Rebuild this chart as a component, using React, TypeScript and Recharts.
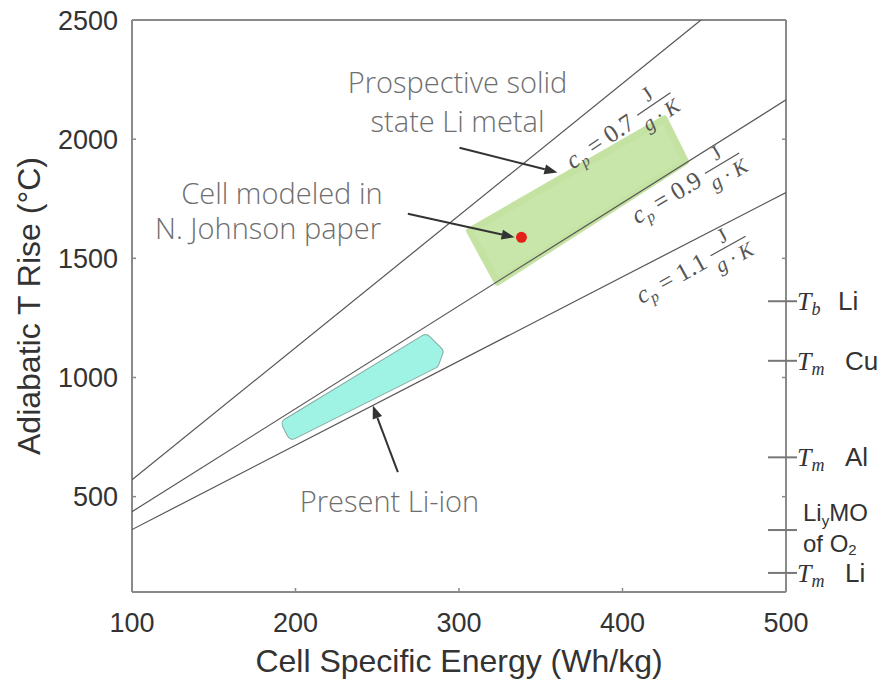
import React from 'react';
import { ScatterChart, Scatter, XAxis, YAxis } from 'recharts';

// ---- data ----
const xTicks = [100, 200, 300, 400, 500];
const yTicks = [500, 1000, 1500, 2000, 2500];

const cp07Line = [{ x: 100, y: 571 }, { x: 448, y: 2500 }];
const cp09Line = [{ x: 100, y: 437 }, { x: 500, y: 2165 }];
const cp11Line = [{ x: 100, y: 362 }, { x: 500, y: 1776 }];

const solidStateRegion = [
  { x: 306.5, y: 1615 },
  { x: 425.5, y: 2085 },
  { x: 438.5, y: 1906 },
  { x: 323.5, y: 1400 },
];
const liIonRegion = [
  { x: 195.1, y: 805 },
  { x: 279.5, y: 1157 },
  { x: 286.9, y: 1107 },
  { x: 284.4, y: 1061 },
  { x: 198.2, y: 764 },
];

const johnsonCell = [{ x: 338.2, y: 1588 }];

const arrowSolid = [{ x: 300.3, y: 1964 }, { x: 360.2, y: 1860 }];
const arrowCell = [{ x: 268.7, y: 1687 }, { x: 334, y: 1588 }];
const arrowLiIon = [{ x: 262.6, y: 603 }, { x: 247.3, y: 882 }];

const annotations = [
  { x: 299.1, y: 2195, text: 'Prospective solid' },
  { x: 299.1, y: 2031, text: 'state Li metal' },
  { x: 191.7, y: 1730, text: 'Cell modeled in' },
  { x: 183.2, y: 1580, text: 'N. Johnson paper' },
  { x: 257.5, y: 437, text: 'Present Li-ion' },
];

const cpLabels = [
  { x: 369.5, y: 1872, cp: '0.7' },
  { x: 409.2, y: 1642, cp: '0.9' },
  { x: 411.6, y: 1307, cp: '1.1' },
];

const refTemps = [1320, 1070, 665, 360, 180];
const refLabels = [
  { sym: 'T', sub: 'b', name: 'Li' },
  { sym: 'T', sub: 'm', name: 'Cu' },
  { sym: 'T', sub: 'm', name: 'Al' },
  { sym: '', sub: '', name: 'LiyMO' },
  { sym: 'T', sub: 'm', name: 'Li' },
];

// ---- styles ----
const cpAngles = [-34, -31, -29];
const AXIS = '#8a8a8a';
const LINE = '#555';
const SANS = 'Liberation Sans, Arial, sans-serif';
const SERIF = 'Liberation Serif, DejaVu Serif, serif';

const polyPath = (pts: any[]) =>
  pts.map((p, i) => `${i ? 'L' : 'M'}${p.x},${p.y}`).join(' ') + ' Z';

const straightLine = (p: any) => (
  <path d={polyPath(p.points).replace(' Z', '')} stroke={LINE} strokeWidth={1.2} fill="none" />
);

const greenShape = (p: any) => (
  <path
    d={polyPath(p.points)}
    fill="#c9e6aa"
    stroke="#c4e2a2"
    strokeWidth={7}
    strokeLinejoin="round"
  />
);

const cyanShape = (p: any) => (
  <g>
    <path d={polyPath(p.points)} fill="#86aaa3" stroke="#86aaa3" strokeWidth={12} strokeLinejoin="round" />
    <path d={polyPath(p.points)} fill="#9ff3e4" stroke="#9ff3e4" strokeWidth={10} strokeLinejoin="round" />
  </g>
);

const arrowLine = (p: any) => {
  const [a, b] = p.points;
  const dx = b.x - a.x;
  const dy = b.y - a.y;
  const len = Math.hypot(dx, dy) || 1;
  const ux = dx / len;
  const uy = dy / len;
  const hl = 13;
  const hw = 5;
  const bx = b.x - ux * hl;
  const by = b.y - uy * hl;
  return (
    <g>
      <path d={`M${a.x},${a.y} L${bx},${by}`} stroke="#333" strokeWidth={2} fill="none" />
      <path
        d={`M${b.x},${b.y} L${bx - uy * hw},${by + ux * hw} L${bx + uy * hw},${by - ux * hw} Z`}
        fill="#333"
      />
    </g>
  );
};

const noMarker = () => <g />;

const annotationShape = (p: any) => (
  <text
    x={p.cx}
    y={p.cy}
    textAnchor="middle"
    fontFamily="Open Sans, sans-serif"
    fontWeight={300}
    fontSize={29}
    fill="#6e6e6e"
  >
    {p.payload.text}
  </text>
);

const cpShape = (p: any) => {
  const idx = cpLabels.findIndex((c) => c.cp === p.payload.cp);
  const angle = cpAngles[idx] ?? -30;
  const fx = 104;
  return (
    <g transform={`translate(${p.cx},${p.cy}) rotate(${angle})`} fill="#555" fontFamily={SERIF}>
      <text x={0} y={0} fontSize={25}>
        <tspan fontStyle="italic">c</tspan>
        <tspan fontStyle="italic" fontSize={16} dy={5}>p</tspan>
        <tspan dy={-5}>{` = ${p.payload.cp}`}</tspan>
      </text>
      <text x={fx} y={-14} fontSize={21} textAnchor="middle">J</text>
      <line x1={fx - 20} x2={fx + 20} y1={-9} y2={-9} stroke="#555" strokeWidth={1.2} />
      <text x={fx} y={11} fontSize={21} textAnchor="middle" fontStyle="italic">g · K</text>
    </g>
  );
};

const dotShape = (p: any) => <circle cx={p.cx} cy={p.cy} r={5.5} fill="#e4201b" />;

const RightTick = (props: any) => {
  const { x, y, payload } = props;
  const idx = refTemps.indexOf(payload.value);
  if (idx < 0) {
    return <line x1={x} x2={x - 4} y1={y} y2={y} stroke={AXIS} strokeWidth={1.5} />;
  }
  const lab = refLabels[idx];
  const tick = <line x1={x - 18} x2={x + 11} y1={y} y2={y} stroke="#777" strokeWidth={2} />;
  if (lab.name === 'LiyMO') {
    return (
      <g>
        {tick}
        <text x={x + 17} y={y - 9} fontFamily={SANS} fontSize={24} fill="#333">
          Li<tspan fontSize={15} dy={5}>y</tspan>
          <tspan dy={-5}>MO</tspan>
        </text>
        <text x={x + 17} y={y + 22} fontFamily={SANS} fontSize={24} fill="#333">
          of O<tspan fontSize={15} dy={3}>2</tspan>
        </text>
      </g>
    );
  }
  return (
    <g>
      {tick}
      <text x={x + 11} y={y + 9} fontSize={26} fill="#333">
        <tspan fontFamily={SERIF} fontStyle="italic">{lab.sym}</tspan>
        <tspan fontFamily={SERIF} fontStyle="italic" fontSize={18} dy={5}>{lab.sub}</tspan>
        <tspan fontFamily={SANS} dy={-5} x={x + (lab.sub === 'b' ? 52 : 59)}>{lab.name}</tspan>
      </text>
    </g>
  );
};

const YTitle = (props: any) => {
  const vb = props.viewBox;
  const cx = 29;
  const cy = vb.y + vb.height / 2;
  return (
    <text
      x={cx}
      y={cy}
      transform={`rotate(-90, ${cx}, ${cy})`}
      textAnchor="middle"
      dominantBaseline="central"
      fontFamily={SANS}
      fontSize={32}
      fill="#333"
    >
      Adiabatic T Rise (°C)
    </text>
  );
};

export default function App() {
  return (
    <div style={{ position: 'absolute', left: 0, top: 0, width: 881, height: 682, background: '#fff' }}>
      <ScatterChart width={881} height={682} margin={{ top: 0, right: 0, bottom: 0, left: 0 }}>
        <XAxis
          xAxisId="bottom"
          type="number"
          dataKey="x"
          domain={[100, 500]}
          ticks={xTicks}
          allowDataOverflow
          height={90}
          tickSize={-4}
          tickMargin={25}
          stroke={AXIS}
          axisLine={{ stroke: AXIS, strokeWidth: 2 }}
          tickLine={{ stroke: AXIS, strokeWidth: 1.5 }}
          tick={{ fill: '#333', fontSize: 27, fontFamily: SANS }}
          label={{
            value: 'Cell Specific Energy (Wh/kg)',
            position: 'insideBottom',
            offset: 10,
            style: { fontSize: 32, fill: '#333', fontFamily: SANS },
          }}
        />
        <XAxis
          xAxisId="top"
          orientation="top"
          type="number"
          domain={[100, 500]}
          ticks={xTicks}
          allowDataOverflow
          height={20}
          tickSize={-4}
          tick={false}
          axisLine={{ stroke: AXIS, strokeWidth: 2 }}
          tickLine={{ stroke: AXIS, strokeWidth: 1.5 }}
        />
        <YAxis
          yAxisId="left"
          type="number"
          dataKey="y"
          domain={[100, 2500]}
          ticks={yTicks}
          allowDataOverflow
          width={132}
          tickSize={-4}
          tickMargin={18}
          axisLine={{ stroke: AXIS, strokeWidth: 2 }}
          tickLine={{ stroke: AXIS, strokeWidth: 1.5 }}
          tick={{ fill: '#333', fontSize: 27, fontFamily: SANS }}
          label={{ content: YTitle }}
        />
        <YAxis
          yAxisId="right"
          orientation="right"
          type="number"
          domain={[100, 2500]}
          ticks={[...yTicks, ...refTemps]}
          interval={0}
          allowDataOverflow
          width={95}
          tickSize={0}
          tickMargin={0}
          tickLine={false}
          axisLine={{ stroke: AXIS, strokeWidth: 2 }}
          tick={<RightTick />}
        />

        <Scatter xAxisId="bottom" yAxisId="left" data={solidStateRegion} line={greenShape} lineType="joint" shape={noMarker} isAnimationActive={false} />
        <Scatter xAxisId="bottom" yAxisId="left" data={liIonRegion} line={cyanShape} lineType="joint" shape={noMarker} isAnimationActive={false} />
        <Scatter xAxisId="bottom" yAxisId="left" data={cp07Line} line={straightLine} lineType="joint" shape={noMarker} isAnimationActive={false} />
        <Scatter xAxisId="bottom" yAxisId="left" data={cp09Line} line={straightLine} lineType="joint" shape={noMarker} isAnimationActive={false} />
        <Scatter xAxisId="bottom" yAxisId="left" data={cp11Line} line={straightLine} lineType="joint" shape={noMarker} isAnimationActive={false} />
        <Scatter xAxisId="bottom" yAxisId="left" data={cpLabels} shape={cpShape} isAnimationActive={false} />
        <Scatter xAxisId="bottom" yAxisId="left" data={arrowSolid} line={arrowLine} lineType="joint" shape={noMarker} isAnimationActive={false} />
        <Scatter xAxisId="bottom" yAxisId="left" data={arrowCell} line={arrowLine} lineType="joint" shape={noMarker} isAnimationActive={false} />
        <Scatter xAxisId="bottom" yAxisId="left" data={arrowLiIon} line={arrowLine} lineType="joint" shape={noMarker} isAnimationActive={false} />
        <Scatter xAxisId="bottom" yAxisId="left" data={johnsonCell} shape={dotShape} isAnimationActive={false} />
        <Scatter xAxisId="bottom" yAxisId="left" data={annotations} shape={annotationShape} isAnimationActive={false} />
      </ScatterChart>
    </div>
  );
}
